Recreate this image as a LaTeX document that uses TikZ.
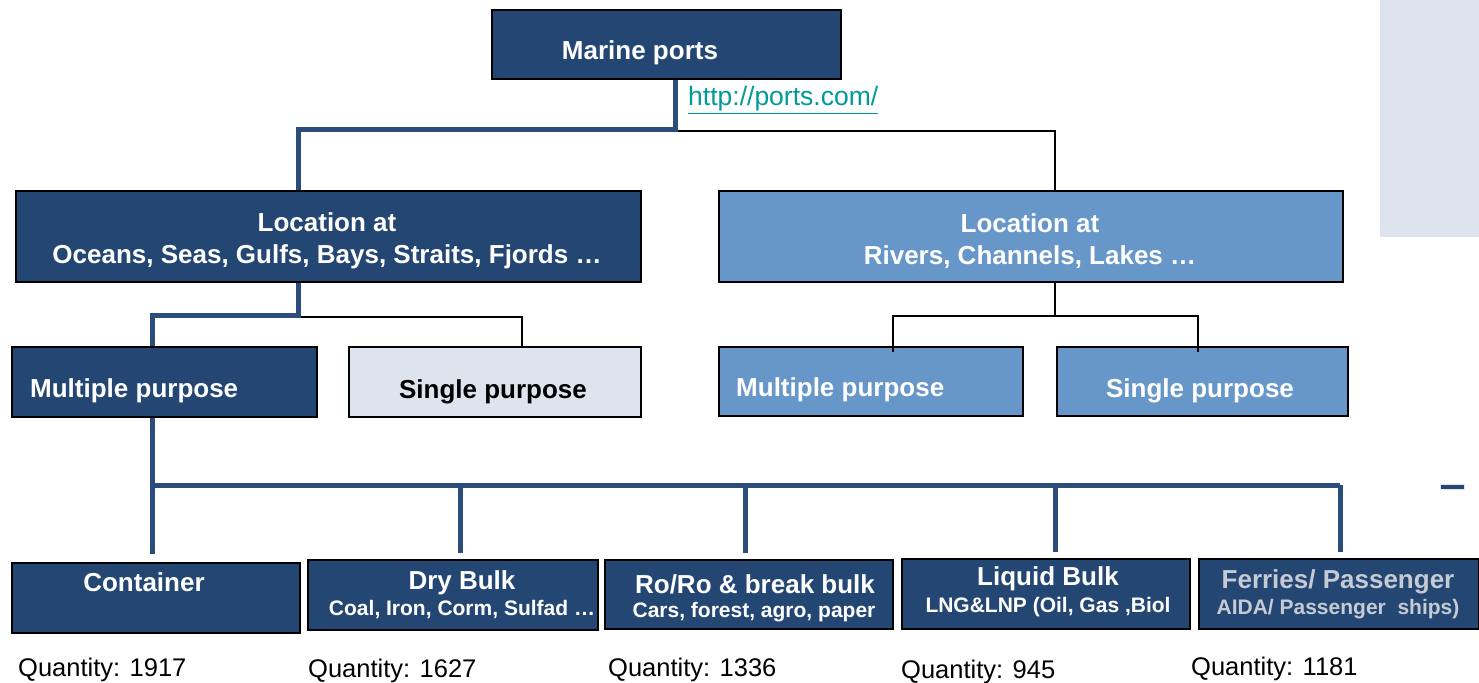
\documentclass[tikz,border=0pt]{standalone}
\usepackage{fontspec}
\setmainfont{Liberation Sans}
\usetikzlibrary{calc}
\definecolor{navy}{HTML}{244673}
\definecolor{lblue}{HTML}{6797C8}
\definecolor{palec}{HTML}{DDE4EE}
\definecolor{linkc}{HTML}{009A9A}
\definecolor{fgray}{HTML}{C5CAD3}
\definecolor{connc}{HTML}{2C4D7C}
\begin{document}
\begin{tikzpicture}[x=1pt,y=-1pt,
  box/.style={draw=black, line width=1.6pt, anchor=north west, inner sep=0pt},
  darkbox/.style={box, fill=navy},
  lightbox/.style={box, fill=lblue},
  palebox/.style={box, fill=palec},
  txt/.style={text=white, font=\fontsize{26}{32}\selectfont\bfseries, align=center, inner sep=0pt},
  subtxt/.style={text=white, font=\fontsize{21}{24}\selectfont\bfseries, inner sep=0pt},
  qty/.style={font=\fontsize{25.5}{30}\selectfont, anchor=west, inner sep=0pt},
  thickc/.style={draw=connc, line width=5pt},
  thinc/.style={draw=black, line width=1.6pt}
]
\useasboundingbox (0,0) rectangle (1479,682);
% side panel and small mark
\fill[palec] (1380,0) rectangle (1479,237);
\filldraw[fill=navy, draw=palec, line width=0.6pt] (1440,484) rectangle (1464,489);

% boxes
\node[darkbox, minimum width=349pt, minimum height=69pt] (mp) at (491,9) {};
\node[darkbox, minimum width=625pt, minimum height=91pt] (loc1) at (15,190) {};
\node[lightbox, minimum width=624pt, minimum height=91pt] (loc2) at (718,190) {};
\node[darkbox, minimum width=305pt, minimum height=70pt] (mp1) at (11,346) {};
\node[palebox, minimum width=292pt, minimum height=70pt] (sp1) at (348,346) {};
\node[lightbox, minimum width=304pt, minimum height=69pt] (mp2) at (718,346) {};
\node[lightbox, minimum width=291pt, minimum height=69pt] (sp2) at (1056,346) {};
\node[darkbox, minimum width=288pt, minimum height=70pt] (b1) at (11,562) {};
\node[darkbox, minimum width=290pt, minimum height=70pt] (b2) at (307,559) {};
\node[darkbox, minimum width=288pt, minimum height=69pt] (b3) at (604,559) {};
\node[darkbox, minimum width=288pt, minimum height=70pt] (b4) at (901,558) {};
\node[darkbox, minimum width=280pt, minimum height=70pt] (b5) at (1198,558) {};

% texts
\node[txt] (mpt) at (640,53) {Marine ports};
\node[anchor=west, inner sep=0pt, text=linkc, font=\fontsize{26.5}{30}\selectfont] (url) at (688,100) {\underline{http://ports.com/}};
\node[txt] (loc1t) at (327,241) {Location at\\Oceans, Seas, Gulfs, Bays, Straits, Fjords …};
\node[txt] (loc2t) at (1030,241) {Location at\\Rivers, Channels, Lakes …};
\node[txt, anchor=west] (mp1t) at (30,391) {Multiple purpose};
\node[txt, text=black] (sp1t) at (493,392) {Single purpose};
\node[txt, anchor=west] (mp2t) at (736,390) {Multiple purpose};
\node[txt] (sp2t) at (1200,391) {Single purpose};
\node[txt] (b1t) at (144,582) {Container};
\node[txt] (b2t) at (462,583) {Dry Bulk};
\node[subtxt] (b2s) at (462,610) {Coal, Iron, Corm, Sulfad …};
\node[txt] (b3t) at (755,584) {Ro/Ro \& break bulk};
\node[subtxt] (b3s) at (754,612) {Cars, forest, agro, paper};
\node[txt] (b4t) at (1048,579) {Liquid Bulk};
\node[subtxt] (b4s) at (1048,607) {LNG\&LNP (Oil, Gas ,Biol};
\node[txt, text=fgray] (b5t) at (1338,582) {Ferries/ Passenger};
\node[subtxt, text=fgray] (b5s) at (1338,609) {AIDA/ Passenger\ \ ships)};
\node[qty] (q1) at (18,670) {Quantity: 1917};
\node[qty] (q2) at (308,671) {Quantity: 1627};
\node[qty] (q3) at (608,670) {Quantity: 1336};
\node[qty] (q4) at (901,672) {Quantity: 945};
\node[qty] (q5) at (1191,669) {Quantity: 1181};

% connectors
\coordinate (j1) at (675,129);
\coordinate (j2) at (298,129);
\coordinate (j3) at (675,131);
\coordinate (j4) at (1055,131);
\draw[thinc] (j3) -- (j4) -- (j4 |- loc2.north);
\draw[thickc] (mp.south -| j1) -- (j1) -- (j2) -- (j2 |- loc1.north);

\coordinate (k1) at (298,315);
\coordinate (k2) at (152,315);
\coordinate (k3) at (298,317);
\coordinate (k4) at (522,317);
\draw[thinc] (k3) -- (k4) -- (k4 |- sp1.north);
\draw[thickc] (loc1.south -| k1) -- (k1) -- (k2) -- (k2 |- mp1.north);

\coordinate (r1) at (1055,316);
\coordinate (r2) at (893,316);
\coordinate (r3) at (1198,316);
\draw[thinc] (loc2.south -| r1) -- (r1);
\draw[thinc] ($(r2 |- mp2.north)+(0,6)$) -- (r2) -- (r3) -- ($(r3 |- sp2.north)+(0,6)$);

\coordinate (h1) at (152,485);
\coordinate (h2) at (460,485);
\coordinate (h3) at (745,485);
\coordinate (h4) at (1055,485);
\coordinate (h5) at (1340,485);
\draw[thickc] (mp1.south -| h1) -- ($(h1 |- b1.north)+(0,-8)$);
\draw[thickc] (h1) -- (h5);
\draw[thickc] (h2) -- ($(h2 |- b2.north)+(0,-6)$);
\draw[thickc] (h3) -- ($(h3 |- b3.north)+(0,-6)$);
\draw[thickc] (h4) -- ($(h4 |- b4.north)+(0,-6)$);
\draw[thickc] (h5) -- ($(h5 |- b5.north)+(0,-6)$);
\end{tikzpicture}
\end{document}
